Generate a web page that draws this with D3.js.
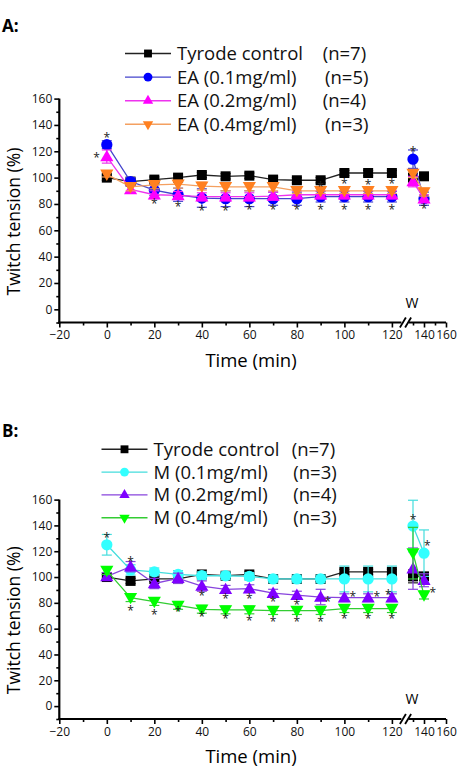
<!DOCTYPE html>
<html><head><meta charset="utf-8">
<script src="https://cdn.jsdelivr.net/npm/d3@7"></script>
<style>body{margin:0;background:#fff}svg{display:block}</style>
</head><body>
<svg id="c" width="459" height="768"></svg>
<script>
// ---------- DATA ----------
const times = [0,10,20,30,40,50,60,70,80,90,100,110,120,130,140]; // 130/140 = wash-out (W)
const xMajorTicks = [-20,0,20,40,60,80,100,120,140,160];
const xMinorTicks = [-10,10,30,50,70,90,110,130,150];
const yMajorTicks = [0,20,40,60,80,100,120,140,160];
const yMinorTicks = [-10,10,30,50,70,90,110,130,150];

// Panel A
const A_labels = ["Tyrode control", "EA (0.1mg/ml)", "EA (0.2mg/ml)", "EA (0.4mg/ml)"];
const A_n = ["(n=7)", "(n=5)", "(n=4)", "(n=3)"];
const A_control = [100,97,98.5,100,102,101,101.5,98.5,98,98,103.5,103.5,103.5,100,101];
const A_control_err = [2,2,2,2,2,2,2,2,2,2,2,2,2,3,2];
const A_ea01 = [125,97,90.5,87,84.5,84,84,84,84,85.5,85.5,85.5,85.5,114,84];
const A_ea01_err = [3,3,4,5,7,6,6,5,5,4,4,4,4,7,5];
const A_ea02 = [116,91,87,86.5,85.5,85.5,85.5,86,87,87,87,87,87,97,84];
const A_ea02_err = [5,3,3,3,3,3,3,3,3,3,3,3,3,4,3];
const A_ea04 = [102.5,93,94.5,95,93.5,93,93,93,90,90,90,90,90,103,89];
const A_ea04_err = [2,3,3,3,3,3,3,3,2,2,2,2,2,3,3];
const A_stars = [[0,132.3],[-4.3,117.2],[20,82.2],[30,80],[40,76.7],[50,77],[60,78],[70,78],[80,78],[90,78],
  [100,78],[110,78],[120,78],[90,95],[100,97.5],[110,97],[120,97.5],[130,121.5],[140,78.4]];

// Panel B
const B_labels = ["Tyrode control", "M (0.1mg/ml)", "M (0.2mg/ml)", "M (0.4mg/ml)"];
const B_n = ["(n=7)", "(n=3)", "(n=4)", "(n=3)"];
const B_control = [100,97,98.5,98.5,102,101,102,98.5,98.5,98.5,104,104,104,100.5,100.5];
const B_control_err = [2,2,2,2,2,2,2,2,2,2,2,2,2,5,3];
const B_m01 = [125,105.5,104,102,101,101,100.5,98.5,98.5,98.5,98.5,98.5,98.5,139.5,118.5];
const B_m01_err = [8,4,3,3,3,3,3,3,3,3,10,10,10,20,18];
const B_m02 = [100.5,108,95,99,93,90.5,91,87.5,86,84.5,84,84,84,106.5,97.5];
const B_m02_err = [3,4,4,4,4,3,3,3,3,6,3,3,3,16,5];
const B_m04 = [105,84,81,78,75,74.5,74.5,74,74,74,75.5,75.5,75.5,118.5,86];
const B_m04_err = [3,3,3,3,3,3,3,3,3,3,3,3,3,20,3];
const B_stars = [[0,132.6],[10,113.7],[10,76.2],[20,72.6],[30,75],[40,87.8],[40,71.1],[50,85.3],[50,69.8],
  [60,85.5],[60,68],[70,82.7],[70,67.2],[80,80.9],[80,67.2],[93,83.2],[90,67.4],[103.5,86.6],[100,69.8],
  [113.6,86.8],[110,69.8],[118.5,88.6],[120,69.8],[130,146.7],[143,126.1],[148,89.9]];

// ---------- STYLE ----------
const FONT = "'Open Sans', 'DejaVu Sans', sans-serif";
const A_styles = [
  {fill:"#000000", line:"#222222", shape:"square"},
  {fill:"#0000ff", line:"#4444cc", shape:"circle"},
  {fill:"#ff00ff", line:"#ee33ee", shape:"up"},
  {fill:"#ff8020", line:"#f4a060", shape:"down"}];
const B_styles = [
  {fill:"#000000", line:"#222222", shape:"square"},
  {fill:"#33ffff", line:"#44dddd", shape:"circle"},
  {fill:"#7f00ff", line:"#8844dd", shape:"up"},
  {fill:"#00ff00", line:"#33cc33", shape:"down"}];

const svg = d3.select("#c");

function symbolPath(shape, big) {
  const s = big ? 1 : 0.62;
  if (shape === "square") return d3.symbol().type(d3.symbolSquare).size(100*s)();
  if (shape === "circle") return d3.symbol().type(d3.symbolCircle).size(100*s)();
  return d3.symbol().type(d3.symbolTriangle).size(75*s)();
}

function drawPanel(cfg) {
  const g = svg.append("g");
  const x = d3.scaleLinear().domain([-20,124,126,160]).range([59.3,401.4,408.6,446]);
  const y = d3.scaleLinear().domain([-10,160]).range([cfg.yBottom, cfg.yTop]);

  // panel letter
  g.append("text").attr("x",2).attr("y",cfg.letterY).text(cfg.letter)
    .attr("font-family",FONT).attr("font-weight","bold").attr("font-size",17);

  // y axis
  const yAx = g.append("g").attr("transform",`translate(${x(-20)},0)`);
  yAx.call(d3.axisLeft(y).tickValues(yMajorTicks).tickSize(5).tickPadding(2));
  yAx.append("g").call(d3.axisLeft(y).tickValues(yMinorTicks).tickSize(3).tickFormat(""));
  yAx.selectAll(".domain").remove();
  yAx.selectAll("line").attr("stroke","#000").attr("stroke-width",1.6);
  yAx.selectAll("text").attr("font-family",FONT).attr("font-size",12).attr("fill","#111");
  g.append("line").attr("x1",x(-20)).attr("x2",x(-20)).attr("y1",y(-10)+1).attr("y2",y(160))
    .attr("stroke","#000").attr("stroke-width",2.2);

  // x axis
  const xAx = g.append("g").attr("transform",`translate(0,${y(-10)})`);
  xAx.call(d3.axisBottom(x).tickValues(xMajorTicks).tickSize(5).tickPadding(3));
  xAx.append("g").call(d3.axisBottom(x).tickValues(xMinorTicks).tickSize(3).tickFormat(""));
  xAx.selectAll(".domain").remove();
  xAx.selectAll("line").attr("stroke","#000").attr("stroke-width",1.6);
  xAx.selectAll("text").attr("font-family",FONT).attr("font-size",12).attr("fill","#111");
  const y0 = y(-10);
  g.append("line").attr("x1",x(-20)-1).attr("x2",x(124)).attr("y1",y0).attr("y2",y0)
    .attr("stroke","#000").attr("stroke-width",2.2);
  g.append("line").attr("x1",x(126)).attr("x2",x(160)).attr("y1",y0).attr("y2",y0)
    .attr("stroke","#000").attr("stroke-width",2.2);
  [x(124)+1.5, x(126)-0.5].forEach(cx => {
    g.append("line").attr("x1",cx-3).attr("y1",y0+5).attr("x2",cx+3).attr("y2",y0-5)
      .attr("stroke","#000").attr("stroke-width",1.8);
  });
  g.append("text").attr("x",x(130)-1).attr("y",y0-15).attr("text-anchor","middle")
    .attr("font-family",FONT).attr("font-size",14).text("W");

  // axis titles
  g.append("text").attr("x",251).attr("y",y0+44).attr("text-anchor","middle")
    .attr("font-family",FONT).attr("font-size",18.5).text("Time (min)");
  g.append("text").attr("transform",`translate(${20},${(y(-10)+y(160))/2+11}) rotate(-90)`)
    .attr("text-anchor","middle").attr("font-family",FONT).attr("font-size",17.5).text("Twitch tension (%)");

  // series
  const line = d3.line().x(d => x(d.t)).y(d => y(d.v));
  cfg.series.forEach((s, i) => {
    const st = cfg.styles[i];
    const pts = times.map((t, k) => ({t, v: s.values[k], e: s.err[k]}));
    const seg1 = pts.filter(p => p.t <= 120), seg2 = pts.filter(p => p.t > 120);
    const sg = g.append("g");
    [seg1, seg2].forEach(seg => sg.append("path").attr("d", line(seg)).attr("fill","none")
      .attr("stroke", st.line).attr("stroke-width",1.3));
    // error bars
    pts.forEach(p => {
      sg.append("line").attr("x1",x(p.t)).attr("x2",x(p.t)).attr("y1",y(p.v-p.e)).attr("y2",y(p.v+p.e))
        .attr("stroke",st.line).attr("stroke-width",1.2);
      [p.v-p.e, p.v+p.e].forEach(v => sg.append("line").attr("x1",x(p.t)-5).attr("x2",x(p.t)+5)
        .attr("y1",y(v)).attr("y2",y(v)).attr("stroke",st.line).attr("stroke-width",1.2));
    });
    pts.forEach(p => {
      sg.append("path").attr("d", symbolPath(st.shape, true))
        .attr("transform", `translate(${x(p.t)},${y(p.v) + (st.shape==="up"?1:st.shape==="down"?-1:0)})${st.shape==="down"?" rotate(180)":""}`)
        .attr("fill", st.fill);
    });
  });

  // asterisks
  cfg.stars.forEach(([t, v]) => {
    g.append("text").attr("x", x(t)).attr("y", y(v) + 7).attr("text-anchor","middle")
      .attr("font-family",FONT).attr("font-size",12).attr("fill","#222").text("*");
  });

  // legend
  cfg.labels.forEach((lab, i) => {
    const st = cfg.styles[i];
    const ly = cfg.legY + i * cfg.legDy;
    g.append("line").attr("x1",cfg.legX).attr("x2",cfg.legX+46).attr("y1",ly).attr("y2",ly)
      .attr("stroke",st.line).attr("stroke-width",1.4);
    g.append("path").attr("d", symbolPath(st.shape, false))
      .attr("transform",`translate(${cfg.legX+23},${ly})${st.shape==="down"?" rotate(180)":""}`)
      .attr("fill", st.fill);
    g.append("text").attr("x",cfg.legX+52).attr("y",ly+6.5).attr("font-family",FONT).attr("font-size",18.5)
      .attr("fill","#111").text(lab);
    g.append("text").attr("x",cfg.nX[i]).attr("y",ly+6.5).attr("font-family",FONT).attr("font-size",18.5)
      .attr("fill","#111").text(cfg.n[i]);
  });
}

drawPanel({letter:"A:", letterY:32, yTop:98.6, yBottom:322.5,
  labels:A_labels, n:A_n, styles:A_styles, stars:A_stars,
  legX:125, legY:53.5, legDy:23.6, nX:[322.7,325,322.7,325],
  series:[{values:A_control,err:A_control_err},{values:A_ea01,err:A_ea01_err},
          {values:A_ea02,err:A_ea02_err},{values:A_ea04,err:A_ea04_err}]});

drawPanel({letter:"B:", letterY:437, yTop:499.6, yBottom:719,
  labels:B_labels, n:B_n, styles:B_styles, stars:B_stars,
  legX:101.5, legY:449.3, legDy:22.8, nX:[291.7,293.3,293.3,293.3],
  series:[{values:B_control,err:B_control_err},{values:B_m01,err:B_m01_err},
          {values:B_m02,err:B_m02_err},{values:B_m04,err:B_m04_err}]});
</script>
</body></html>
